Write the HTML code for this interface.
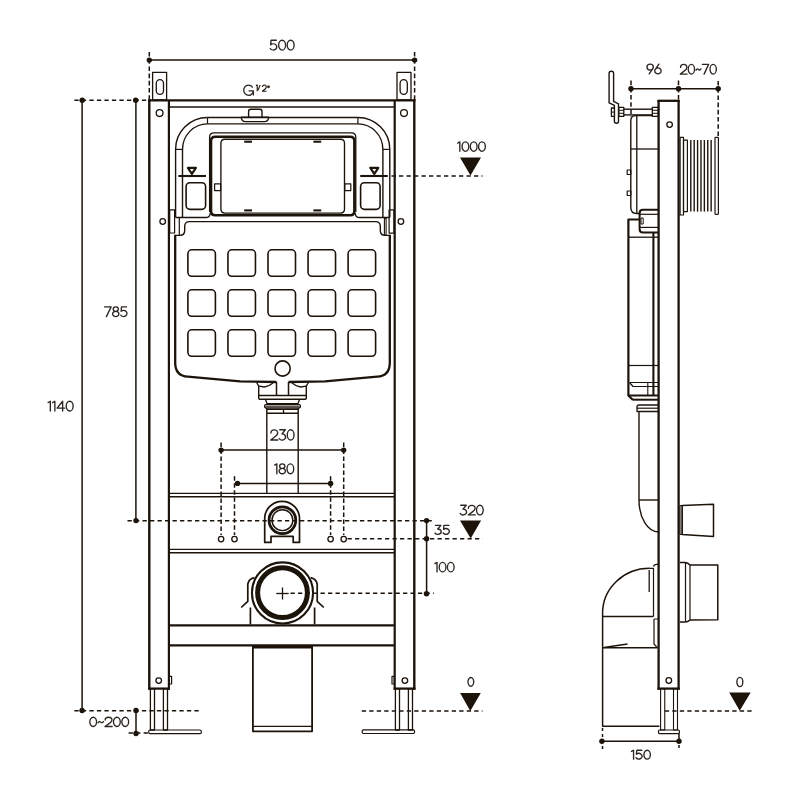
<!DOCTYPE html>
<html><head><meta charset="utf-8"><style>
html,body{margin:0;padding:0;background:#fff;}
svg{display:block;}
text{font-family:"Liberation Sans",sans-serif;fill:#2b2620;stroke:none;opacity:0.995;}
</style></head><body>
<svg width="800" height="800" viewBox="0 0 800 800">
<rect width="800" height="800" fill="#fff"/>
<g stroke="#1c130b" fill="none" stroke-linecap="butt" stroke-linejoin="round">
<g id="m1">
<rect x="152.6" y="72.4" width="14" height="27.6" stroke-width="1.3"/>
<rect x="156.3" y="79.6" width="7.2" height="14.8" rx="3.6" stroke-width="1.3"/>
<line x1="149.3" y1="99.2" x2="149.3" y2="689.7" stroke-width="2.4"/>
<line x1="168.9" y1="100" x2="168.9" y2="689.7" stroke-width="2.2"/>
<line x1="148.1" y1="688.6" x2="170" y2="688.6" stroke-width="2.3"/>
<circle cx="159.6" cy="113.1" r="3.4" stroke-width="1.3"/>
<circle cx="162.7" cy="221.5" r="2.8" stroke-width="1.3"/>
<circle cx="158.7" cy="680.6" r="2.8" stroke-width="1.3"/>
<rect x="169.3" y="676.3" width="2.3" height="7.7" stroke-width="1.2"/>
</g>
<use href="#m1" transform="translate(563.6,0) scale(-1,1)"/>
<line x1="148.1" y1="100.4" x2="415.5" y2="100.4" stroke-width="2.3"/>
<line x1="168.9" y1="107" x2="394.7" y2="107" stroke-width="1.3"/>
<line x1="168.9" y1="493.4" x2="394.7" y2="493.4" stroke-width="1.4"/>
<line x1="168.9" y1="496.7" x2="394.7" y2="496.7" stroke-width="1.4"/>
<line x1="168.9" y1="549.4" x2="394.7" y2="549.4" stroke-width="1.4"/>
<line x1="168.9" y1="552.8" x2="394.7" y2="552.8" stroke-width="1.4"/>
<line x1="168.9" y1="625.4" x2="394.7" y2="625.4" stroke-width="2.3"/>
<line x1="168.9" y1="645.3" x2="394.7" y2="645.3" stroke-width="2.3"/>
<line x1="221.1" y1="442.6" x2="221.1" y2="535" stroke-width="1.5" stroke-dasharray="4.5,2.5"/>
<circle cx="221.1" cy="539.1" r="2.7" stroke-width="1.3"/>
<line x1="343.7" y1="442.6" x2="343.7" y2="535" stroke-width="1.5" stroke-dasharray="4.5,2.5"/>
<circle cx="343.7" cy="539.1" r="2.7" stroke-width="1.3"/>
<line x1="234.5" y1="476.3" x2="234.5" y2="535" stroke-width="1.5" stroke-dasharray="4.5,2.5"/>
<circle cx="234.5" cy="539.1" r="2.7" stroke-width="1.3"/>
<line x1="330.6" y1="476.3" x2="330.6" y2="535" stroke-width="1.5" stroke-dasharray="4.5,2.5"/>
<circle cx="330.6" cy="539.1" r="2.7" stroke-width="1.3"/>
<line x1="221.1" y1="450" x2="343.7" y2="450" stroke-width="1.5"/>
<circle cx="221.1" cy="450.1" r="2.7" fill="#1c130b" stroke="none"/>
<circle cx="343.7" cy="450.1" r="2.7" fill="#1c130b" stroke="none"/>
<line x1="237.5" y1="483.4" x2="330.6" y2="483.4" stroke-width="1.5"/>
<circle cx="237.5" cy="483.4" r="2.7" fill="#1c130b" stroke="none"/>
<circle cx="330.6" cy="483.4" r="2.7" fill="#1c130b" stroke="none"/>
<rect x="150.4" y="688.6" width="4.1" height="41.4" stroke-width="1.3"/>
<rect x="163.4" y="688.6" width="4.1" height="41.4" stroke-width="1.3"/>
<rect x="395.4" y="688.6" width="4.1" height="41.4" stroke-width="1.3"/>
<rect x="408.4" y="688.6" width="4.1" height="41.4" stroke-width="1.3"/>
<rect x="148.75" y="730" width="52.5" height="3.6" rx="1.2" stroke-width="1.2"/>
<rect x="362.2" y="729.8" width="52.3" height="3.7" rx="1.2" stroke-width="1.2"/>
<g id="m2">
<line x1="207.5" y1="117.5" x2="207.5" y2="123.9" stroke-width="1.2"/>
<path d="M207.5,117.5 A31.9,31.9 0 0 0 175.6,149.4 L175.6,217.2" stroke-width="1.4"/>
<path d="M207.5,123.9 A25,25.5 0 0 0 182.5,149.4 L182.5,217.2" stroke-width="1.4"/>
<line x1="175.6" y1="149.4" x2="182.5" y2="149.4" stroke-width="1.2"/>
<path d="M175.6,217.5 L205.6,217.5 Q210.2,217.5 210.2,212.9" stroke-width="1.3"/>
<line x1="244.2" y1="141.7" x2="252" y2="141.7" stroke-width="2.1"/>
<line x1="244.2" y1="210.4" x2="252" y2="210.4" stroke-width="2.1"/>
<rect x="214.6" y="183.8" width="6" height="6.8" stroke-width="1.2"/>
</g>
<use href="#m2" transform="translate(565.4,0) scale(-1,1)"/>
<line x1="207.5" y1="117.5" x2="357.9" y2="117.5" stroke-width="1.4"/>
<line x1="207.5" y1="123.9" x2="357.9" y2="123.9" stroke-width="1.4"/>
<path d="M355.8,212 L355.8,137.2 Q355.8,132.8 351.4,132.8 L282.7,132.8 L214,132.8 Q209.6,132.8 209.6,137.2 L209.6,212" stroke-width="1.3"/>
<path d="M282.7,215.3 L350.1,215.3 Q354.4,215.3 354.4,211 L354.4,141 Q354.4,136.8 350.1,136.8 L282.7,136.8 L215.3,136.8 Q211,136.8 211,141 L211,211 Q211,215.3 215.3,215.3 L282.7,215.3" stroke-width="2.6"/>
<path d="M282.7,213.1 L340.5,213.1 Q344.5,213.1 344.5,209.1 L344.5,143.2 Q344.5,139.2 340.5,139.2 L282.7,139.2 L224.9,139.2 Q220.9,139.2 220.9,143.2 L220.9,209.1 Q220.9,213.1 224.9,213.1 L282.7,213.1" stroke-width="1.35"/>
<g id="m3">
<line x1="178.4" y1="176" x2="206" y2="176" stroke-width="2.1"/>
<path d="M187.9,167.8 L195.9,167.8 L191.9,173.8 Z" stroke-width="2.2"/>
<rect x="186.1" y="182.8" width="19.5" height="26.6" rx="3.8" stroke-width="1.6"/>
</g>
<use href="#m3" transform="translate(566.2,0) scale(-1,1)"/>
<g id="m4">
<path d="M175.2,234.8 L175.2,363.2 Q175.4,375.9 187.8,376.6 L240,381.4 L276.5,382" stroke-width="2.3"/>
<path d="M258.7,386.2 L264.5,387 Q268.5,386.6 273,383" stroke-width="1.3"/>
<line x1="276.5" y1="382" x2="276.5" y2="395.6" stroke-width="1.5"/>
<line x1="266.8" y1="408" x2="266.8" y2="493.4" stroke-width="1.4"/>
</g>
<use href="#m4" transform="translate(565,0) scale(-1,1)"/>
<path d="M389.8,235.4 L385.1,235.4 Q380.3,235.4 380.3,230.6 L380.3,226.4 Q380.3,221.6 375.5,221.6 L282.5,221.6 L189.5,221.6 Q184.7,221.6 184.7,226.4 L184.7,230.6 Q184.7,235.4 179.9,235.4 L175.2,235.4" stroke-width="1.4"/>
<path d="M308.4,382.5 L306.3,386 L306.3,397.4 Q306.3,399.3 304.4,399.3 L282.5,399.3 L260.6,399.3 Q258.7,399.3 258.7,397.4 L258.7,386 L256.6,382.5" stroke-width="1.4"/>
<line x1="258.7" y1="395.5" x2="306.3" y2="395.5" stroke-width="1.6"/>
<path d="M299.5,399.6 L298,403.6 L282.5,403.6 L267,403.6 L265.5,399.6" stroke-width="1.3"/>
<path d="M282.5,408 L299,408 Q300.5,408 300.5,406.3 Q300.5,404.6 299,404.6 L282.5,404.6 L266,404.6 Q264.5,404.6 264.5,406.3 Q264.5,408 266,408 L282.5,408" stroke-width="1.3"/>
<line x1="265.5" y1="406.3" x2="299.5" y2="406.3" stroke-width="0.9"/>
<line x1="266.7" y1="409.3" x2="298.3" y2="409.3" stroke-width="1.3"/>
<line x1="266.7" y1="413.3" x2="298.3" y2="413.3" stroke-width="1.5"/>
<line x1="283.5" y1="409.3" x2="283.5" y2="413.3" stroke-width="1.3"/>
<rect x="169.7" y="209.8" width="4.9" height="23.2" stroke-width="1.2"/>
<rect x="389.1" y="209.8" width="4.8" height="23.3" stroke-width="1.2"/>
<line x1="179.3" y1="217.4" x2="179.3" y2="235.4" stroke-width="1.2"/>
<rect x="384.4" y="218.4" width="1.7" height="16.8" stroke-width="1.1"/>
<rect x="187.9" y="249.8" width="27.5" height="26.5" rx="4" stroke-width="1.6"/>
<rect x="227.95" y="249.8" width="27.5" height="26.5" rx="4" stroke-width="1.6"/>
<rect x="268" y="249.8" width="27.5" height="26.5" rx="4" stroke-width="1.6"/>
<rect x="308.05" y="249.8" width="27.5" height="26.5" rx="4" stroke-width="1.6"/>
<rect x="348.1" y="249.8" width="27.5" height="26.5" rx="4" stroke-width="1.6"/>
<rect x="187.9" y="289.8" width="27.5" height="26.5" rx="4" stroke-width="1.6"/>
<rect x="227.95" y="289.8" width="27.5" height="26.5" rx="4" stroke-width="1.6"/>
<rect x="268" y="289.8" width="27.5" height="26.5" rx="4" stroke-width="1.6"/>
<rect x="308.05" y="289.8" width="27.5" height="26.5" rx="4" stroke-width="1.6"/>
<rect x="348.1" y="289.8" width="27.5" height="26.5" rx="4" stroke-width="1.6"/>
<rect x="187.9" y="329.8" width="27.5" height="26.5" rx="4" stroke-width="1.6"/>
<rect x="227.95" y="329.8" width="27.5" height="26.5" rx="4" stroke-width="1.6"/>
<rect x="268" y="329.8" width="27.5" height="26.5" rx="4" stroke-width="1.6"/>
<rect x="308.05" y="329.8" width="27.5" height="26.5" rx="4" stroke-width="1.6"/>
<rect x="348.1" y="329.8" width="27.5" height="26.5" rx="4" stroke-width="1.6"/>
<circle cx="282.6" cy="368.5" r="7.6" stroke-width="1.6"/>
<path d="M248.6,116.9 L248.6,111.4 Q248.6,109.2 250.8,109.2 L259.8,109.2 Q262,109.2 262,111.4 L262,116.9" stroke-width="1.4"/>
<path d="M241.3,117.2 L268.6,117.2 Q268.6,121.6 264.2,121.6 L245.7,121.6 Q241.3,121.6 241.3,117.2 Z" stroke-width="1.4"/>
<g id="m5">
</g>
<use href="#m5" transform="translate(564.2,0) scale(-1,1)"/>
<path d="M282.1,536.4 L293.2,536.4 L293.2,542.4 L299.5,542.4 L299.5,518.7 A17.4,17.4 0 0 0 282.1,501.3 A17.4,17.4 0 0 0 264.7,518.7 L264.7,542.4 L271,542.4 L271,536.4 L282.1,536.4" stroke-width="1.7"/>
<circle cx="282.4" cy="520.2" r="13.35" stroke-width="2.8"/>
<circle cx="282.4" cy="520.2" r="10.4" stroke-width="1.4"/>
<g id="m6">
<path d="M241.2,607.5 L247.8,601.3 L247.8,584 Q248.6,579 254.5,577.6" stroke-width="1.7"/>
<line x1="250.4" y1="607.5" x2="250.4" y2="624.4" stroke-width="1.7"/>
</g>
<use href="#m6" transform="translate(565,0) scale(-1,1)"/>
<path d="M282.5,731.3 L312.1,731.3 L312.1,646.5 L282.5,646.5 L252.9,646.5 L252.9,731.3 L282.5,731.3" stroke-width="1.8"/>
<line x1="253" y1="647.3" x2="312" y2="647.3" stroke-width="2.5"/>
<line x1="252.9" y1="726.3" x2="312.1" y2="726.3" stroke-width="1.3"/>
<circle cx="282.5" cy="592.9" r="30.55" stroke-width="2.1"/>
<circle cx="282.5" cy="592.7" r="24.9" stroke-width="5.0"/>
<line x1="276.3" y1="593.5" x2="288.7" y2="593.5" stroke-width="1.3"/>
<line x1="282.5" y1="587.5" x2="282.5" y2="599.5" stroke-width="1.3"/>
<line x1="149.3" y1="60" x2="414.6" y2="60" stroke-width="1.5"/>
<circle cx="149.3" cy="60.1" r="2.7" fill="#1c130b" stroke="none"/>
<circle cx="414.6" cy="60.1" r="2.7" fill="#1c130b" stroke="none"/>
<line x1="149.3" y1="52" x2="149.3" y2="100" stroke-width="1.5" stroke-dasharray="4.6,2.6"/>
<line x1="414.6" y1="52" x2="414.6" y2="100" stroke-width="1.5" stroke-dasharray="4.6,2.6"/>
<path transform="translate(269.875,40.275) scale(1.1772,0.9850)" d="M5.5,0 L1.0,0 L0.65,4.55 A3.05,3.1 0 1 1 0.3,8.5" stroke="#2b2620" stroke-width="1.35" vector-effect="non-scaling-stroke" stroke-linecap="round"/>
<path transform="translate(278.645,40.275) scale(1.1772,0.9850)" d="M2.95,0 A2.95,5 0 1 1 2.95,10 A2.95,5 0 1 1 2.95,0 Z" stroke="#2b2620" stroke-width="1.35" vector-effect="non-scaling-stroke" stroke-linecap="round"/>
<path transform="translate(287.180,40.275) scale(1.1772,0.9850)" d="M2.95,0 A2.95,5 0 1 1 2.95,10 A2.95,5 0 1 1 2.95,0 Z" stroke="#2b2620" stroke-width="1.35" vector-effect="non-scaling-stroke" stroke-linecap="round"/>
<path transform="translate(243.675,85.375) scale(1.0104,1.0150)" d="M8.6,1.7 A4.8,5 0 1 0 9.6,5.4 L5.3,5.4 M9.6,5.4 L9.6,9.6" stroke="#2b2620" stroke-width="1.35" vector-effect="non-scaling-stroke" stroke-linecap="round"/>
<path d="M255.9,85.6 L257.2,84.9 L257.2,91.3" stroke-width="1.1"/>
<path d="M260.2,84.9 L258.0,90.3" stroke-width="1.1"/>
<path d="M262.4,86.9 A1.95,1.9 0 0 1 266.3,86.9 C266.3,87.8 265.8,88.4 265.1,89.0 L262.4,91.2 L266.5,91.2" stroke-width="1.1"/>
<rect x="267.6" y="85.9" width="1.8" height="1.7" stroke-width="0.6" fill="#1c130b"/>
<line x1="74.4" y1="100.3" x2="147.5" y2="100.3" stroke-width="1.5" stroke-dasharray="4.3,3.2"/>
<circle cx="82.2" cy="100.2" r="2.7" fill="#1c130b" stroke="none"/>
<circle cx="135.7" cy="100.2" r="2.7" fill="#1c130b" stroke="none"/>
<line x1="82.1" y1="100" x2="82.1" y2="710.5" stroke-width="1.5"/>
<line x1="135.9" y1="100" x2="135.9" y2="520.5" stroke-width="1.5"/>
<circle cx="136" cy="520.6" r="2.7" fill="#1c130b" stroke="none"/>
<line x1="127.5" y1="520.7" x2="434.2" y2="520.7" stroke-width="1.5" stroke-dasharray="4.3,3.2"/>
<line x1="74.4" y1="710.8" x2="201.3" y2="710.8" stroke-width="1.5" stroke-dasharray="4.3,3.2"/>
<circle cx="82.1" cy="710.5" r="2.7" fill="#1c130b" stroke="none"/>
<circle cx="136" cy="710.5" r="2.7" fill="#1c130b" stroke="none"/>
<circle cx="136" cy="733.5" r="2.7" fill="#1c130b" stroke="none"/>
<line x1="136" y1="710.5" x2="136" y2="733.5" stroke-width="1.5"/>
<line x1="128.6" y1="732.9" x2="148.5" y2="732.9" stroke-width="1.5" stroke-dasharray="4.3,3.2"/>
<path transform="translate(104.625,306.875) scale(1.1188,0.9750)" d="M0,0 L5.8,0 L1.6,10" stroke="#2b2620" stroke-width="1.35" vector-effect="non-scaling-stroke" stroke-linecap="round"/>
<path transform="translate(112.625,306.875) scale(1.1188,0.9750)" d="M2.8,0 A2.3,2.3 0 1 1 2.8,4.6 A2.3,2.3 0 1 1 2.8,0 Z M2.8,4.55 A2.8,2.725 0 1 1 2.8,10 A2.8,2.725 0 1 1 2.8,4.55 Z" stroke="#2b2620" stroke-width="1.35" vector-effect="non-scaling-stroke" stroke-linecap="round"/>
<path transform="translate(120.400,306.875) scale(1.1188,0.9750)" d="M5.5,0 L1.0,0 L0.65,4.55 A3.05,3.1 0 1 1 0.3,8.5" stroke="#2b2620" stroke-width="1.35" vector-effect="non-scaling-stroke" stroke-linecap="round"/>
<path transform="translate(48.125,401.275) scale(1.1710,0.9750)" d="M0,1.3 L1.9,0 L1.9,10" stroke="#2b2620" stroke-width="1.35" vector-effect="non-scaling-stroke" stroke-linecap="round"/>
<path transform="translate(52.633,401.275) scale(1.1710,0.9750)" d="M0,1.3 L1.9,0 L1.9,10" stroke="#2b2620" stroke-width="1.35" vector-effect="non-scaling-stroke" stroke-linecap="round"/>
<path transform="translate(57.141,401.275) scale(1.1710,0.9750)" d="M4.7,10 L4.7,0 L0,7.1 L6.4,7.1" stroke="#2b2620" stroke-width="1.35" vector-effect="non-scaling-stroke" stroke-linecap="round"/>
<path transform="translate(66.216,401.275) scale(1.1710,0.9750)" d="M2.95,0 A2.95,5 0 1 1 2.95,10 A2.95,5 0 1 1 2.95,0 Z" stroke="#2b2620" stroke-width="1.35" vector-effect="non-scaling-stroke" stroke-linecap="round"/>
<path transform="translate(89.775,717.225) scale(1.1528,0.9300)" d="M2.95,0 A2.95,5 0 1 1 2.95,10 A2.95,5 0 1 1 2.95,0 Z" stroke="#2b2620" stroke-width="1.35" vector-effect="non-scaling-stroke" stroke-linecap="round"/>
<path transform="translate(98.133,717.225) scale(1.1528,0.9300)" d="M0,6.0 C0.5,4.6 1.5,4.5 2.3,5.3 C3.1,6.1 4.1,6.0 4.6,4.6" stroke="#2b2620" stroke-width="1.35" vector-effect="non-scaling-stroke" stroke-linecap="round"/>
<path transform="translate(104.992,717.225) scale(1.1528,0.9300)" d="M0.15,3.1 A2.95,3.05 0 0 1 6.05,3.1 C6.05,4.4 5.3,5.3 4.2,6.3 L0,10 L6.2,10" stroke="#2b2620" stroke-width="1.35" vector-effect="non-scaling-stroke" stroke-linecap="round"/>
<path transform="translate(113.465,717.225) scale(1.1528,0.9300)" d="M2.95,0 A2.95,5 0 1 1 2.95,10 A2.95,5 0 1 1 2.95,0 Z" stroke="#2b2620" stroke-width="1.35" vector-effect="non-scaling-stroke" stroke-linecap="round"/>
<path transform="translate(121.823,717.225) scale(1.1528,0.9300)" d="M2.95,0 A2.95,5 0 1 1 2.95,10 A2.95,5 0 1 1 2.95,0 Z" stroke="#2b2620" stroke-width="1.35" vector-effect="non-scaling-stroke" stroke-linecap="round"/>
<line x1="391.5" y1="175.9" x2="482.5" y2="175.9" stroke-width="1.5" stroke-dasharray="4.3,3.2"/>
<path d="M460,157.5 L481,157.5 L470.5,175.6 Z" fill="#1c130b" stroke="none"/>
<path transform="translate(457.675,141.875) scale(1.1402,0.9450)" d="M0,1.3 L1.9,0 L1.9,10" stroke="#2b2620" stroke-width="1.35" vector-effect="non-scaling-stroke" stroke-linecap="round"/>
<path transform="translate(462.065,141.875) scale(1.1402,0.9450)" d="M2.95,0 A2.95,5 0 1 1 2.95,10 A2.95,5 0 1 1 2.95,0 Z" stroke="#2b2620" stroke-width="1.35" vector-effect="non-scaling-stroke" stroke-linecap="round"/>
<path transform="translate(470.331,141.875) scale(1.1402,0.9450)" d="M2.95,0 A2.95,5 0 1 1 2.95,10 A2.95,5 0 1 1 2.95,0 Z" stroke="#2b2620" stroke-width="1.35" vector-effect="non-scaling-stroke" stroke-linecap="round"/>
<path transform="translate(478.598,141.875) scale(1.1402,0.9450)" d="M2.95,0 A2.95,5 0 1 1 2.95,10 A2.95,5 0 1 1 2.95,0 Z" stroke="#2b2620" stroke-width="1.35" vector-effect="non-scaling-stroke" stroke-linecap="round"/>
<line x1="347.5" y1="538.7" x2="482.6" y2="538.7" stroke-width="1.5" stroke-dasharray="4.3,3.2"/>
<path d="M460,520.6 L481.1,520.6 L470.7,538.5 Z" fill="#1c130b" stroke="none"/>
<path transform="translate(460.175,505.275) scale(1.1299,0.9650)" d="M0.5,0 L5.4,0 L2.5,4.0 A3.0,3.0 0 1 1 0.1,8.6" stroke="#2b2620" stroke-width="1.35" vector-effect="non-scaling-stroke" stroke-linecap="round"/>
<path transform="translate(468.254,505.275) scale(1.1299,0.9650)" d="M0.15,3.1 A2.95,3.05 0 0 1 6.05,3.1 C6.05,4.4 5.3,5.3 4.2,6.3 L0,10 L6.2,10" stroke="#2b2620" stroke-width="1.35" vector-effect="non-scaling-stroke" stroke-linecap="round"/>
<path transform="translate(476.559,505.275) scale(1.1299,0.9650)" d="M2.95,0 A2.95,5 0 1 1 2.95,10 A2.95,5 0 1 1 2.95,0 Z" stroke="#2b2620" stroke-width="1.35" vector-effect="non-scaling-stroke" stroke-linecap="round"/>
<circle cx="426.6" cy="520.6" r="2.7" fill="#1c130b" stroke="none"/>
<circle cx="426.6" cy="538.7" r="2.7" fill="#1c130b" stroke="none"/>
<circle cx="426.5" cy="593.8" r="2.7" fill="#1c130b" stroke="none"/>
<line x1="426.6" y1="520.6" x2="426.6" y2="593.8" stroke-width="1.5"/>
<path transform="translate(434.875,525.375) scale(1.1132,0.8950)" d="M0.5,0 L5.4,0 L2.5,4.0 A3.0,3.0 0 1 1 0.1,8.6" stroke="#2b2620" stroke-width="1.35" vector-effect="non-scaling-stroke" stroke-linecap="round"/>
<path transform="translate(442.834,525.375) scale(1.1132,0.8950)" d="M5.5,0 L1.0,0 L0.65,4.55 A3.05,3.1 0 1 1 0.3,8.5" stroke="#2b2620" stroke-width="1.35" vector-effect="non-scaling-stroke" stroke-linecap="round"/>
<path transform="translate(434.875,562.375) scale(1.1324,0.9500)" d="M0,1.3 L1.9,0 L1.9,10" stroke="#2b2620" stroke-width="1.35" vector-effect="non-scaling-stroke" stroke-linecap="round"/>
<path transform="translate(439.235,562.375) scale(1.1324,0.9500)" d="M2.95,0 A2.95,5 0 1 1 2.95,10 A2.95,5 0 1 1 2.95,0 Z" stroke="#2b2620" stroke-width="1.35" vector-effect="non-scaling-stroke" stroke-linecap="round"/>
<path transform="translate(447.444,562.375) scale(1.1324,0.9500)" d="M2.95,0 A2.95,5 0 1 1 2.95,10 A2.95,5 0 1 1 2.95,0 Z" stroke="#2b2620" stroke-width="1.35" vector-effect="non-scaling-stroke" stroke-linecap="round"/>
<line x1="290.5" y1="593.3" x2="433.8" y2="593.3" stroke-width="1.5" stroke-dasharray="4.3,3.2"/>
<line x1="361.75" y1="711.1" x2="482.5" y2="711.1" stroke-width="1.5" stroke-dasharray="4.3,3.2"/>
<path d="M460.1,692.9 L480.8,692.9 L470.3,710.9 Z" fill="#1c130b" stroke="none"/>
<path transform="translate(467.975,677.475) scale(0.9746,0.8750)" d="M2.95,0 A2.95,5 0 1 1 2.95,10 A2.95,5 0 1 1 2.95,0 Z" stroke="#2b2620" stroke-width="1.35" vector-effect="non-scaling-stroke" stroke-linecap="round"/>
<path transform="translate(270.775,429.775) scale(1.1397,1.0250)" d="M0.15,3.1 A2.95,3.05 0 0 1 6.05,3.1 C6.05,4.4 5.3,5.3 4.2,6.3 L0,10 L6.2,10" stroke="#2b2620" stroke-width="1.35" vector-effect="non-scaling-stroke" stroke-linecap="round"/>
<path transform="translate(279.152,429.775) scale(1.1397,1.0250)" d="M0.5,0 L5.4,0 L2.5,4.0 A3.0,3.0 0 1 1 0.1,8.6" stroke="#2b2620" stroke-width="1.35" vector-effect="non-scaling-stroke" stroke-linecap="round"/>
<path transform="translate(287.301,429.775) scale(1.1397,1.0250)" d="M2.95,0 A2.95,5 0 1 1 2.95,10 A2.95,5 0 1 1 2.95,0 Z" stroke="#2b2620" stroke-width="1.35" vector-effect="non-scaling-stroke" stroke-linecap="round"/>
<path transform="translate(274.675,463.875) scale(1.1407,0.9850)" d="M0,1.3 L1.9,0 L1.9,10" stroke="#2b2620" stroke-width="1.35" vector-effect="non-scaling-stroke" stroke-linecap="round"/>
<path transform="translate(279.067,463.875) scale(1.1407,0.9850)" d="M2.8,0 A2.3,2.3 0 1 1 2.8,4.6 A2.3,2.3 0 1 1 2.8,0 Z M2.8,4.55 A2.8,2.725 0 1 1 2.8,10 A2.8,2.725 0 1 1 2.8,4.55 Z" stroke="#2b2620" stroke-width="1.35" vector-effect="non-scaling-stroke" stroke-linecap="round"/>
<path transform="translate(286.995,463.875) scale(1.1407,0.9850)" d="M2.95,0 A2.95,5 0 1 1 2.95,10 A2.95,5 0 1 1 2.95,0 Z" stroke="#2b2620" stroke-width="1.35" vector-effect="non-scaling-stroke" stroke-linecap="round"/>
<line x1="658.6" y1="100" x2="658.6" y2="689.7" stroke-width="2.3"/>
<line x1="678.6" y1="100" x2="678.6" y2="689.7" stroke-width="2.3"/>
<line x1="657.5" y1="100.8" x2="679.7" y2="100.8" stroke-width="2.3"/>
<line x1="657.5" y1="688.6" x2="679.7" y2="688.6" stroke-width="2.3"/>
<circle cx="669.6" cy="124.6" r="2.8" stroke-width="1.3"/>
<circle cx="668.8" cy="680.5" r="2.8" stroke-width="1.3"/>
<rect x="660.6" y="688.6" width="4.15" height="41.4" stroke-width="1.1"/>
<rect x="673.5" y="688.6" width="4" height="41.4" stroke-width="1.1"/>
<rect x="658.5" y="730" width="20.9" height="3.6" rx="1" stroke-width="1.2"/>
<line x1="631" y1="88.8" x2="718.2" y2="88.8" stroke-width="1.5"/>
<circle cx="631" cy="88.8" r="2.7" fill="#1c130b" stroke="none"/>
<circle cx="678.5" cy="88.8" r="2.7" fill="#1c130b" stroke="none"/>
<circle cx="718.2" cy="88.8" r="2.7" fill="#1c130b" stroke="none"/>
<line x1="631" y1="80.6" x2="631" y2="117" stroke-width="1.5" stroke-dasharray="4.6,2.6"/>
<line x1="678.5" y1="80.6" x2="678.5" y2="100" stroke-width="1.5" stroke-dasharray="4.6,2.6"/>
<line x1="718.2" y1="81" x2="718.2" y2="137" stroke-width="1.5" stroke-dasharray="4.6,2.6"/>
<path transform="translate(646.975,64.125) scale(1.0599,0.9750)" d="M3,0 A3,3.05 0 1 1 3,6.1 A3,3.05 0 1 1 3,0 Z M5.65,4.4 L2.1,10" stroke="#2b2620" stroke-width="1.35" vector-effect="non-scaling-stroke" stroke-linecap="round"/>
<path transform="translate(654.765,64.125) scale(1.0599,0.9750)" d="M3,3.9 A3,3.05 0 1 1 3,10 A3,3.05 0 1 1 3,3.9 Z M0.35,5.6 L3.9,0" stroke="#2b2620" stroke-width="1.35" vector-effect="non-scaling-stroke" stroke-linecap="round"/>
<path transform="translate(680.375,64.375) scale(1.0699,0.9750)" d="M0.15,3.1 A2.95,3.05 0 0 1 6.05,3.1 C6.05,4.4 5.3,5.3 4.2,6.3 L0,10 L6.2,10" stroke="#2b2620" stroke-width="1.35" vector-effect="non-scaling-stroke" stroke-linecap="round"/>
<path transform="translate(688.239,64.375) scale(1.0699,0.9750)" d="M2.95,0 A2.95,5 0 1 1 2.95,10 A2.95,5 0 1 1 2.95,0 Z" stroke="#2b2620" stroke-width="1.35" vector-effect="non-scaling-stroke" stroke-linecap="round"/>
<path transform="translate(695.996,64.375) scale(1.0699,0.9750)" d="M0,6.0 C0.5,4.6 1.5,4.5 2.3,5.3 C3.1,6.1 4.1,6.0 4.6,4.6" stroke="#2b2620" stroke-width="1.35" vector-effect="non-scaling-stroke" stroke-linecap="round"/>
<path transform="translate(702.362,64.375) scale(1.0699,0.9750)" d="M0,0 L5.8,0 L1.6,10" stroke="#2b2620" stroke-width="1.35" vector-effect="non-scaling-stroke" stroke-linecap="round"/>
<path transform="translate(710.012,64.375) scale(1.0699,0.9750)" d="M2.95,0 A2.95,5 0 1 1 2.95,10 A2.95,5 0 1 1 2.95,0 Z" stroke="#2b2620" stroke-width="1.35" vector-effect="non-scaling-stroke" stroke-linecap="round"/>
<path d="M609.1,73.2 Q609.1,71.2 611.35,71.2 Q613.6,71.2 613.6,73.2 L613.6,101.3 L618.5,103.8 L618.5,121.3 Q618.5,123.3 616.45,123.3 Q614.4,123.3 614.4,121.3 L614.4,105.4 L609.1,102.8 Z" stroke-width="1.4" fill="#fff"/>
<rect x="611.4" y="108" width="3" height="8.3" stroke-width="1.3" fill="#fff"/>
<line x1="611.4" y1="112.1" x2="614.4" y2="112.1" stroke-width="1.0"/>
<rect x="618.9" y="107.4" width="4.9" height="8.9" stroke-width="1.3" fill="#fff"/>
<line x1="618.9" y1="110.3" x2="623.8" y2="110.3" stroke-width="1.0"/>
<line x1="618.9" y1="113.3" x2="623.8" y2="113.3" stroke-width="1.0"/>
<line x1="623.8" y1="109.2" x2="652.3" y2="109.2" stroke-width="1.4"/>
<line x1="623.8" y1="114.9" x2="652.3" y2="114.9" stroke-width="1.4"/>
<rect x="652.3" y="107.4" width="6" height="8.9" stroke-width="1.3"/>
<line x1="652.3" y1="110.3" x2="658.3" y2="110.3" stroke-width="1.0"/>
<line x1="652.3" y1="113.3" x2="658.3" y2="113.3" stroke-width="1.0"/>
<path d="M652.3,115.6 L635.8,115.6 Q630.8,115.6 630.8,120.6 L630.8,207.5 Q630.8,213.5 636.8,213.5 L639.6,213.5" stroke-width="1.4"/>
<line x1="636.8" y1="116" x2="636.8" y2="213.5" stroke-width="1.3"/>
<line x1="630.8" y1="149" x2="658.6" y2="149" stroke-width="1.3"/>
<rect x="627.2" y="170" width="3.6" height="4.5" stroke-width="1.2"/>
<rect x="627.2" y="191" width="3.6" height="4.5" stroke-width="1.2"/>
<rect x="680.1" y="137.3" width="3.4" height="77.7" stroke-width="1.2"/>
<rect x="683.5" y="140.1" width="3.9" height="71.5" stroke-width="1.2"/>
<line x1="690.8" y1="140.1" x2="690.8" y2="211.6" stroke-width="1.4"/>
<line x1="694.19" y1="140.1" x2="694.19" y2="211.6" stroke-width="1.4"/>
<line x1="697.58" y1="140.1" x2="697.58" y2="211.6" stroke-width="1.4"/>
<line x1="700.97" y1="140.1" x2="700.97" y2="211.6" stroke-width="1.4"/>
<line x1="704.36" y1="140.1" x2="704.36" y2="211.6" stroke-width="1.4"/>
<line x1="707.75" y1="140.1" x2="707.75" y2="211.6" stroke-width="1.4"/>
<line x1="711.14" y1="140.1" x2="711.14" y2="211.6" stroke-width="1.4"/>
<rect x="715" y="137.3" width="3.4" height="77.1" rx="0.8" stroke-width="1.2"/>
<path d="M658.6,209.8 L643,209.8 Q639.6,209.8 639.6,213.2 L639.6,229.2 Q639.6,232.6 643,232.6 L658.6,232.6" stroke-width="2.0"/>
<line x1="639.6" y1="214.3" x2="658.6" y2="214.3" stroke-width="1.2"/>
<line x1="639.6" y1="227.4" x2="658.6" y2="227.4" stroke-width="1.2"/>
<rect x="641" y="218" width="2.2" height="6" stroke-width="1.0"/>
<path d="M639.6,219.5 L628.4,219.5 L628.4,395.5 L633,400" stroke-width="2.2"/>
<line x1="628.4" y1="237.2" x2="658.6" y2="237.2" stroke-width="1.3"/>
<line x1="653.4" y1="232.6" x2="653.4" y2="395.5" stroke-width="2.1"/>
<line x1="628.4" y1="365.5" x2="658.6" y2="365.5" stroke-width="1.2"/>
<path d="M629.5,382.5 L658.6,382.5 M629.5,382.5 L633,386.5 L658.6,386.5" stroke-width="1.2"/>
<line x1="647.8" y1="382.5" x2="647.8" y2="395.5" stroke-width="1.1"/>
<line x1="628.4" y1="395.5" x2="658.6" y2="395.5" stroke-width="2.0"/>
<line x1="633" y1="399.7" x2="658.6" y2="399.7" stroke-width="2.0"/>
<path d="M658.6,405 L639,405 Q637,405 637,407 L637,411.5 L658.6,411.5" stroke-width="1.3"/>
<line x1="637" y1="408.2" x2="658.6" y2="408.2" stroke-width="1.2"/>
<path d="M639,411.5 L639,500 A19.6,32 0 0 0 658.6,532" stroke-width="1.4"/>
<line x1="639" y1="500" x2="658.6" y2="500" stroke-width="1.4"/>
<rect x="680" y="505.5" width="2.2" height="29" stroke-width="1.1"/>
<path d="M682.2,505.5 L713.5,504.3 L713.5,536.5 L682.2,534.5 Z" stroke-width="1.5"/>
<path d="M649.5,568.3 A47,44.7 0 0 0 602.6,613 L602.6,726.3 L659.4,726.3" stroke-width="1.5"/>
<line x1="602.6" y1="616.5" x2="653.5" y2="616.5" stroke-width="1.3"/>
<line x1="649.2" y1="570" x2="649.2" y2="592" stroke-width="1.3"/>
<path d="M649.2,568.3 L653.5,568.3 L653.5,616.5" stroke-width="1.2"/>
<path d="M653.5,566.5 Q654,564.3 656.5,564.3 L658.6,564.3" stroke-width="1.2"/>
<path d="M654,619 L658.6,619 M654,619 L654,644 L657.5,647.8" stroke-width="1.2"/>
<line x1="602.6" y1="647.8" x2="657.5" y2="647.8" stroke-width="1.4"/>
<line x1="604" y1="647.5" x2="627.5" y2="644" stroke-width="1.4"/>
<path d="M680,562.5 L685,562.5 Q688,562.8 690,565 L717.8,565 L717.8,619.8 L690,620 Q688,622 685,622 L680,622" stroke-width="1.5"/>
<line x1="685.5" y1="563" x2="685.5" y2="621.5" stroke-width="1.2"/>
<line x1="690" y1="565" x2="690" y2="620" stroke-width="1.2"/>
<line x1="601.9" y1="741.3" x2="679" y2="741.3" stroke-width="1.5"/>
<circle cx="601.9" cy="741.3" r="2.7" fill="#1c130b" stroke="none"/>
<circle cx="679" cy="741.3" r="2.7" fill="#1c130b" stroke="none"/>
<line x1="602.5" y1="728" x2="602.5" y2="750" stroke-width="1.5" stroke-dasharray="3,3"/>
<line x1="679" y1="733.6" x2="679" y2="741.3" stroke-width="1.5"/>
<line x1="679" y1="745" x2="679" y2="750" stroke-width="1.5" stroke-dasharray="3,3"/>
<path transform="translate(631.475,750.275) scale(1.0988,0.8850)" d="M0,1.3 L1.9,0 L1.9,10" stroke="#2b2620" stroke-width="1.35" vector-effect="non-scaling-stroke" stroke-linecap="round"/>
<path transform="translate(635.706,750.275) scale(1.0988,0.8850)" d="M5.5,0 L1.0,0 L0.65,4.55 A3.05,3.1 0 1 1 0.3,8.5" stroke="#2b2620" stroke-width="1.35" vector-effect="non-scaling-stroke" stroke-linecap="round"/>
<path transform="translate(643.892,750.275) scale(1.0988,0.8850)" d="M2.95,0 A2.95,5 0 1 1 2.95,10 A2.95,5 0 1 1 2.95,0 Z" stroke="#2b2620" stroke-width="1.35" vector-effect="non-scaling-stroke" stroke-linecap="round"/>
<line x1="664.8" y1="711" x2="752.5" y2="711" stroke-width="1.5" stroke-dasharray="4.3,3.2"/>
<path d="M729.2,692.5 L750.7,692.5 L739.7,710.8 Z" fill="#1c130b" stroke="none"/>
<path transform="translate(736.875,677.375) scale(1.0085,0.9250)" d="M2.95,0 A2.95,5 0 1 1 2.95,10 A2.95,5 0 1 1 2.95,0 Z" stroke="#2b2620" stroke-width="1.35" vector-effect="non-scaling-stroke" stroke-linecap="round"/>
</g>
</svg>
</body></html>
